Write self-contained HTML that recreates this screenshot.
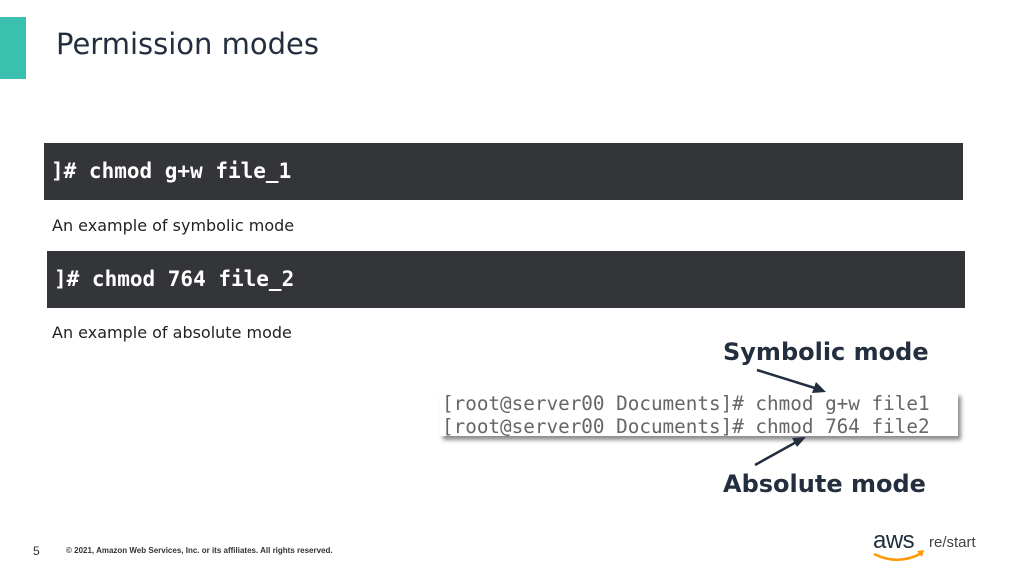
<!DOCTYPE html>
<html><head><style>
body{margin:0;width:1030px;height:577px;background:#fff;position:relative;overflow:hidden;font-family:"Liberation Sans",sans-serif}
.a{position:absolute}
.box{position:absolute;background:#333539;color:#fff;font-family:"DejaVu Sans Mono","Liberation Mono",monospace;font-weight:bold;font-size:21px;box-sizing:border-box;padding-left:7px;line-height:57px}
.cap{position:absolute;font-size:17.5px;color:#222;font-family:"DejaVu Sans",sans-serif;font-size:16px}
.term{position:absolute;left:440px;top:392px;width:516px;height:44px;background:#fff;box-shadow:3px 4px 4px rgba(0,0,0,0.45);font-family:"DejaVu Sans Mono","Liberation Mono",monospace;font-size:19.3px;color:#666;line-height:23px;padding-left:2px;white-space:nowrap}
.lab{position:absolute;font-weight:bold;font-size:24px;color:#232f3e;font-family:"DejaVu Sans",sans-serif}
</style></head><body>
<div class="a" style="left:0;top:17px;width:26px;height:62px;background:#3bc0b0"></div>
<div class="a" style="left:56px;top:27px;font-size:29px;color:#232f3e;font-family:'DejaVu Sans',sans-serif">Permission modes</div>
<div class="box" style="left:44px;top:143px;width:919px;height:57px">]# chmod g+w file_1</div>
<div class="cap" style="left:52px;top:216px">An example of symbolic mode</div>
<div class="box" style="left:47px;top:251px;width:918px;height:57px">]# chmod 764 file_2</div>
<div class="cap" style="left:52px;top:323px">An example of absolute mode</div>
<div class="term">[root@server00 Documents]# chmod g+w file1<br>[root@server00 Documents]# chmod 764 file2</div>
<div class="lab" style="left:723px;top:338px">Symbolic mode</div>
<div class="lab" style="left:723px;top:470px">Absolute mode</div>
<svg class="a" style="left:0;top:0" width="1030" height="577">
<line x1="757" y1="370" x2="818" y2="389" stroke="#232f3e" stroke-width="2.5"/>
<polygon points="826,392 812,393 816,382" fill="#232f3e"/>
<line x1="755" y1="465" x2="800" y2="440" stroke="#232f3e" stroke-width="2.5"/>
<polygon points="806,437 797,447 792,438" fill="#232f3e"/>
<path d="M874 554 Q898 566 922 553" stroke="#f90" stroke-width="2.5" fill="none"/>
<polygon points="924,550 917,551 922,557" fill="#f90"/>
</svg>
<div class="a" style="left:33px;top:544px;font-size:12px;color:#333">5</div>
<div class="a" style="left:66px;top:546px;font-size:8px;color:#333;font-weight:bold">© 2021, Amazon Web Services, Inc. or its affiliates. All rights reserved.</div>
<div class="a" style="left:873px;top:527px;font-size:24px;color:#232f3e;letter-spacing:-0.5px">aws</div>
<div class="a" style="left:929px;top:534px;font-size:15px;color:#444">re/start</div>
</body></html>
